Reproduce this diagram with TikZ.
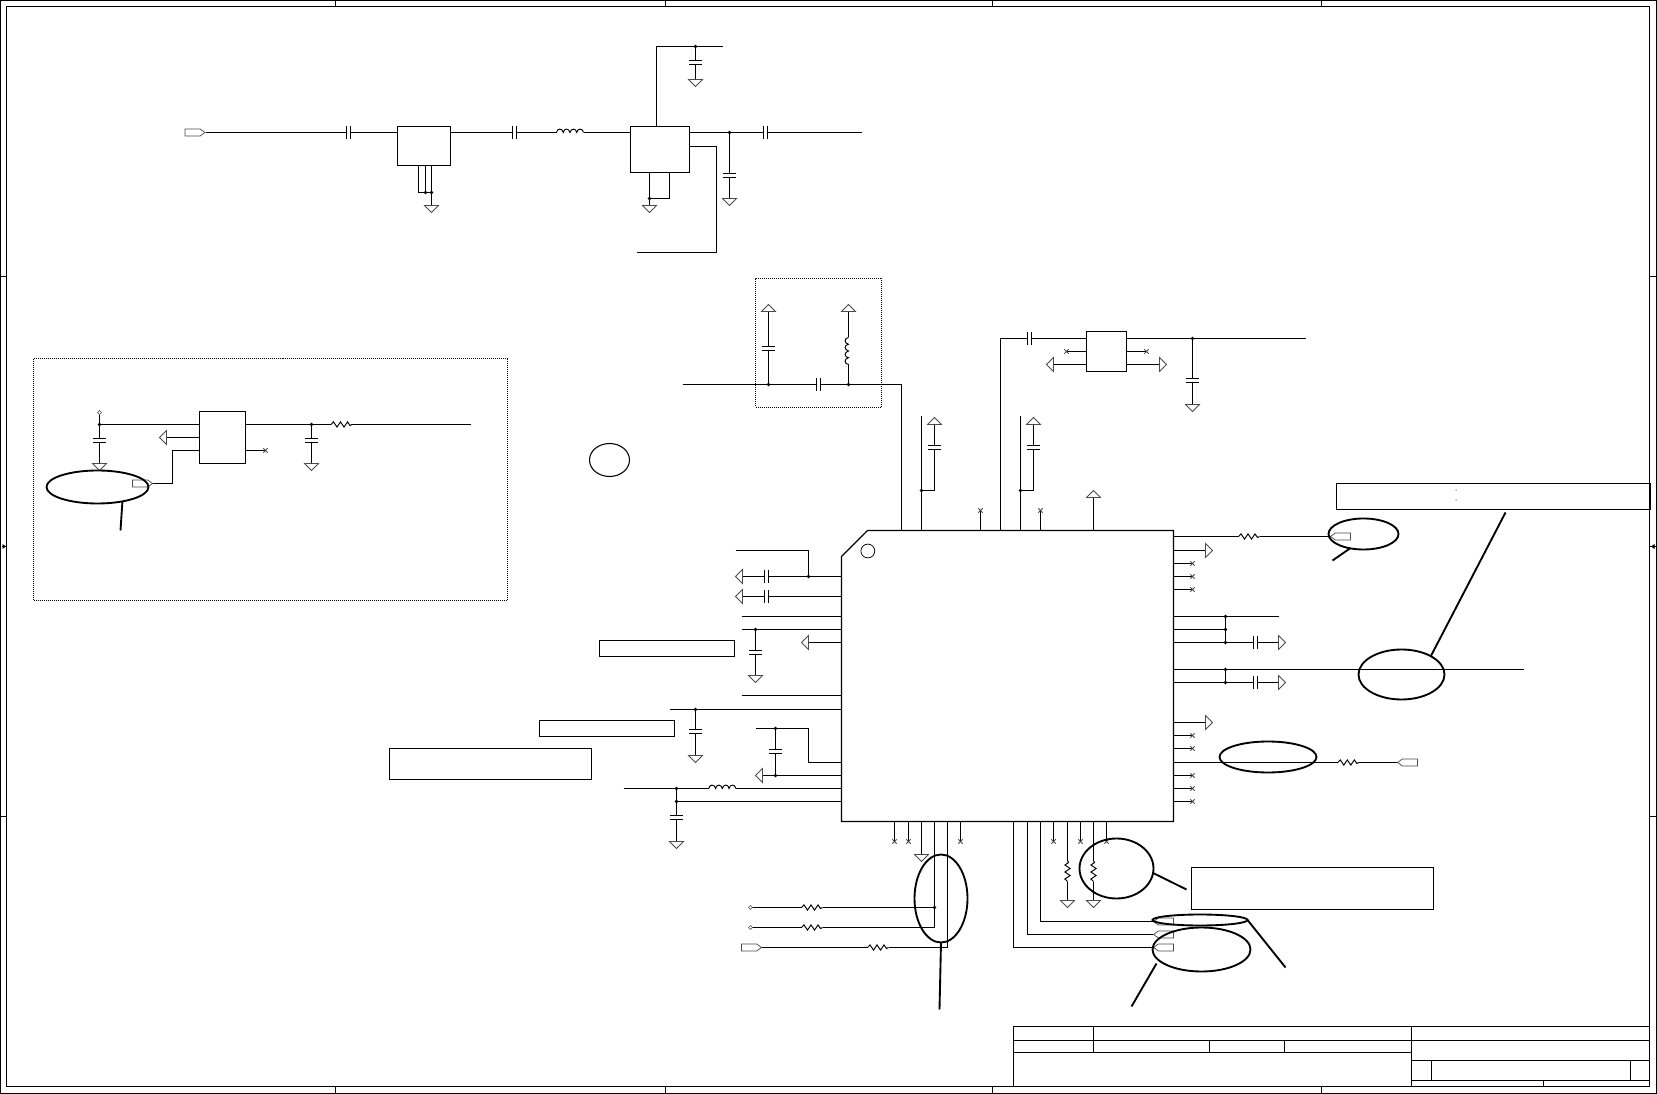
\documentclass[tikz,border=0pt]{standalone}
\usetikzlibrary{shapes.geometric}
\newcommand{\pt}[3]{\pgfmathsetmacro{\snapx}{floor(#2)+0.5}\pgfmathsetmacro{\snapy}{floor(#3)+0.5}\coordinate (#1) at (\snapx,\snapy);}
\newcommand{\rectnode}[6][boxnode]{\pgfmathsetmacro{\snapa}{floor(#3)+0.5}\pgfmathsetmacro{\snapb}{floor(#4)+0.5}\pgfmathsetmacro{\snapc}{floor(#5)+0.5}\pgfmathsetmacro{\snapd}{floor(#6)+0.5}\node[#1,minimum width={(\snapc-\snapa)*0.75pt},minimum height={(\snapd-\snapb)*0.75pt}] (#2) at ({(\snapa+\snapc)/2},{(\snapb+\snapd)/2}) {};}
\newcommand{\dotat}[1]{\fill (#1) circle (1.8);}
\tikzset{
  x=0.75pt,y=-0.75pt,
  wire/.style={line width=0.8pt,line cap=butt,line join=miter},
  thinwire/.style={line width=0.72pt},
  boxnode/.style={draw,line width=0.85pt,rectangle,inner sep=0pt,outer sep=0pt},
  notebox/.style={draw,line width=0.9pt,rectangle,inner sep=0pt,outer sep=0pt},
  dotbox/.style={draw,line width=0.75pt,rectangle,dash pattern=on 0.75pt off 0.75pt,inner sep=0pt,outer sep=0pt},
  mark ellipse/.style={draw,ellipse,line width=1.4pt,inner sep=0pt,outer sep=0pt},
  thin ellipse/.style={draw,ellipse,line width=0.8pt,inner sep=0pt,outer sep=0pt},
  leader/.style={line width=1.4pt,line cap=butt},
  sym/.style={line width=0.6pt,draw=black!70,fill=white},
  tri/.pic={\draw[sym] (-7,0)--(7,0)--(0,7)--cycle;},
  capV/.pic={\fill[white] (-3,-1.8) rectangle (3,1.8);\draw[wire] (-6.5,-2)--(6.5,-2) (-6.5,2)--(6.5,2);},
  capH/.pic={\fill[white] (-1.8,-3) rectangle (1.8,3);\draw[wire] (-2,-6.5)--(-2,6.5) (2,-6.5)--(2,6.5);},
  ind/.pic={\fill[white] (-13.5,-1.2) rectangle (13.5,1.2);
    \draw[thinwire] (-13.5,0) .. controls (-13,-4.5) and (-7.5,-4.5) .. (-6.7,0)
      .. controls (-6.2,-4.5) and (-1,-4.5) .. (0,0)
      .. controls (1,-4.5) and (6.2,-4.5) .. (6.7,0)
      .. controls (7.5,-4.5) and (13,-4.5) .. (13.5,0);},
  res/.pic={\fill[white] (-10.5,-1.2) rectangle (10.5,1.2);
    \draw[thinwire] (-10.5,0)--(-8,-2.6)--(-4.5,2.6)--(-1,-2.6)--(2.5,2.6)--(6,-2.6)--(8.5,1)--(10.5,0);},
  nc/.pic={\draw[line width=0.55pt,draw=black!70] (-2.2,-2.2)--(2.2,2.2) (-2.2,2.2)--(2.2,-2.2);},
  dia/.pic={\draw[line width=0.5pt,draw=black!70,fill=white] (-2,0)--(0,-2)--(2,0)--(0,2)--cycle;},
  portR/.pic={\draw[line width=0.55pt,draw=black!70,fill=white] (-20,-3.6)--(-5,-3.6)--(0,0)--(-5,3.6)--(-20,3.6)--cycle;},
  portL/.pic={\draw[line width=0.55pt,draw=black!70,fill=white] (20,-3.6)--(5,-3.6)--(0,0)--(5,3.6)--(20,3.6)--cycle;},
}
\begin{document}
\begin{tikzpicture}
\useasboundingbox (0,0) rectangle (1657,1094);
% ---- drawing frame
\draw[line width=0.85pt] (0.5,0.5) rectangle (1656.5,1093.5);
\draw[line width=0.85pt] (6.5,6.5) rectangle (1649.5,1086.5);
\foreach \X in {335.5,665.5,992.5,1321.5}{\draw[line width=0.7pt] (\X,0.5)--(\X,6.5) (\X,1086.5)--(\X,1093.5);}
\foreach \Y in {276.5,816.5}{\draw[line width=0.7pt] (0.5,\Y)--(6.5,\Y) (1649.5,\Y)--(1656.5,\Y);}
\draw[line width=0.7pt] (2,546.5)--(7,546.5) (1650,546.5)--(1656,546.5);
\fill (2.5,544)--(6,546.5)--(2.5,549)--cycle;
\fill (1654.5,544)--(1651,546.5)--(1654.5,549)--cycle;

% ---- IC
\draw[line width=0.85pt] (867.5,530.5)--(1173.5,530.5)--(1173.5,821.5)--(841.5,821.5)--(841.5,556.5)--cycle;
\node[draw,circle,line width=0.55pt,minimum size=10.4pt,inner sep=0pt] (icdot) at (867.8,551) {};
\pt{icleft}{841.7}{600}
\pt{icright}{1173.3}{600}
\pt{icbot}{900}{821.5}

% ---- top RF chain
\rectnode{boxA}{397}{126.3}{450.6}{165.3}
\rectnode{boxB}{630}{126.3}{689.5}{172.7}
\pt{inA}{205}{132.5}
\pt{outB}{861}{132.5}
\draw[wire] (inA)--(boxA.west|-inA);
\draw[wire] (boxA.east|-inA)--(boxB.west|-inA);
\draw[wire] (boxB.east|-inA)--(outB);
\pic at (205,132.5) {portR};
\pic at (348.5,132.5) {capH};
\pic at (514.5,132.5) {capH};
\pic at (570,132.5) {ind};
\pic at (765.5,132.5) {capH};
\pt{bA1}{418}{192.3}\pt{bA2}{425}{192.3}\pt{bA3}{431}{192.3}\pt{gA}{431}{205}
\draw[thinwire] (boxA.south-|bA1)--(bA1)--(bA3);
\draw[thinwire] (boxA.south-|bA2)--(bA2);
\draw[thinwire] (boxA.south-|bA3)--(gA);
\dotat{bA2}\dotat{bA3}
\pic at (gA) {tri};
\pt{bB1}{649}{198.3}\pt{bB2}{669}{198.3}\pt{gB}{649}{205}
\draw[thinwire] (boxB.south-|bB2)--(bB2)--(bB1);
\draw[thinwire] (boxB.south-|bB1)--(gB);
\dotat{bB1}
\pic at (gB) {tri};
\pt{vT}{656.7}{46.3}\pt{vE}{722}{46.3}\pt{jT}{695.8}{46.3}\pt{gT}{695.8}{79.3}
\draw[wire] (boxB.north-|vT)--(vT)--(vE);
\draw[wire] (jT)--(gT);
\dotat{jT}
\pic at (695.5,62.5) {capV};
\pic at (gT) {tri};
\pt{jO}{729}{132.5}\pt{gO}{729}{198}
\draw[wire] (jO)--(gO);
\dotat{jO}
\pic at (729.5,175.5) {capV};
\pic at (gO) {tri};
\pt{fbA}{716}{146}\pt{fbB}{716}{252.3}\pt{fbC}{636}{252.3}
\draw[thinwire] (boxB.east|-fbA)--(fbA)--(fbB);
\draw[wire] (fbB)--(fbC);

% ---- left dotted block
\rectnode[dotbox]{blockL}{33.2}{358.3}{507.5}{600.3}
\rectnode{boxC}{199.3}{411.3}{245.7}{463.3}
\pt{jC}{99.3}{424.3}\pt{dC}{99.3}{412.3}\pt{gC}{99.3}{463.3}
\draw[wire] (jC)--(boxC.west|-jC);
\draw[wire] (dC)--(gC);
\dotat{jC}
\pic at (dC) {dia};
\pic at (99.5,440.5) {capV};
\pic at (gC) {tri};
\pt{aC}{166}{437.3}
\draw[wire] (boxC.west|-aC)--(aC);
\pic[rotate=-90] at (aC) {tri};
\pt{cC1}{172.5}{450.3}\pt{cC2}{172.5}{483.3}\pt{cC3}{152.5}{483.3}
\draw[wire] (boxC.west|-cC1)--(cC1)--(cC2)--(cC3);
\pic at (cC3) {portR};
\pt{jD}{311.4}{424.3}\pt{eD}{470.7}{424.3}\pt{gD}{311.4}{463.3}
\draw[wire] (boxC.east|-jD)--(eD);
\draw[wire] (jD)--(gD);
\dotat{jD}
\pic at (311.5,440.5) {capV};
\pic at (gD) {tri};
\pic at (341.5,424.5) {res};
\pt{ncC}{265}{450.3}
\draw[thinwire] (boxC.east|-ncC)--(ncC);
\pic at (ncC) {nc};
\rectnode[mark ellipse]{elA}{46.8}{470.7}{148.2}{503.3}
\pt{lA}{120}{530.3}
\draw[leader] (elA.-30)--(lA);

% ---- upper dotted block and antenna feed
\rectnode[dotbox]{blockU}{755.3}{278.3}{881.6}{407.3}
\pt{fA}{682}{384.3}\pt{fB}{901.5}{384.3}\pt{fC}{901.5}{530.5}
\draw[wire] (fA)--(fB);
\draw[thinwire] (fB)--(fC);
\pt{jE}{768.3}{384.3}\pt{tE}{768.3}{311.7}\pt{jF}{848}{384.3}\pt{tF}{848}{311.7}
\draw[wire] (jE)--(tE);
\draw[wire] (jF)--(tF);
\dotat{jE}\dotat{jF}
\pic at (768.5,348.5) {capV};
\pic[rotate=90] at (848.5,351) {ind};
\pic at (818.5,384.5) {capH};
\pic[rotate=180] at (tE) {tri};
\pic[rotate=180] at (tF) {tri};

% ---- top pins
\pt{p1a}{921.4}{530.5}\pt{p1b}{921.4}{416.7}\pt{j1}{921.4}{490}\pt{p1c}{934.4}{490}\pt{p1d}{934.4}{424.7}
\draw[wire] (p1a)--(p1b);
\draw[thinwire] (j1)--(p1c)--(p1d);
\dotat{j1}
\pic at (934.5,447.5) {capV};
\pic[rotate=180] at (p1d) {tri};
\pt{p2a}{1020.5}{530.5}\pt{p2b}{1020.5}{416.7}\pt{j2}{1020.5}{490}\pt{p2c}{1033.5}{490}\pt{p2d}{1033.5}{424.7}
\draw[thinwire] (p2a)--(p2b);
\draw[thinwire] (j2)--(p2c)--(p2d);
\dotat{j2}
\pic at (1033.5,447.5) {capV};
\pic[rotate=180] at (p2d) {tri};
\foreach \X in {980.5,1040.5}{\draw[thinwire] (\X,530.5)--(\X,510.5); \pic at (\X,510.5) {nc};}
\pt{p3a}{1093.2}{530.5}\pt{p3b}{1093.2}{497}
\draw[thinwire] (p3a)--(p3b);
\pic[rotate=180] at (p3b) {tri};

% ---- block at upper right
\rectnode{boxD}{1086.3}{331.3}{1126.5}{371.3}
\pt{q1}{1000.6}{530.5}\pt{q2}{1000.6}{338.3}\pt{qE}{1305.3}{338.3}\pt{jq}{1192.3}{338.3}\pt{gq}{1192.3}{404}
\draw[thinwire] (q1)--(q2);
\draw[wire] (q2)--(boxD.west|-q2);
\draw[wire] (boxD.east|-q2)--(qE);
\draw[wire] (jq)--(gq);
\dotat{jq}
\pic at (1029.5,338.5) {capH};
\pic at (1192.5,380.5) {capV};
\pic at (gq) {tri};
\pt{nL}{1066.4}{351}\pt{nR}{1146}{351}\pt{aL}{1053.4}{364.3}\pt{aR}{1159.4}{364.3}
\draw[thinwire] (boxD.west|-nL)--(nL);
\draw[thinwire] (boxD.east|-nR)--(nR);
\pic at (nL) {nc};
\pic at (nR) {nc};
\draw[wire] (boxD.west|-aL)--(aL);
\draw[wire] (boxD.east|-aR)--(aR);
\pic[rotate=-90] at (aL) {tri};
\pic[rotate=90] at (aR) {tri};

% ---- IC left side
\pt{l1}{735.3}{550.3}\pt{l1b}{808.3}{550.3}\pt{l1c}{808.3}{576.3}
\draw[wire] (l1)--(l1b);
\draw[thinwire] (l1b)--(l1c);
\dotat{l1c}
\pt{l2}{742.7}{576.3}\pt{l3}{742.7}{596.7}
\draw[wire] (l2)--(icleft|-l2);
\draw[wire] (l3)--(icleft|-l3);
\pic at (766.5,576.5) {capH};
\pic at (766.5,596.5) {capH};
\pic[rotate=-90] at (l2) {tri};
\pic[rotate=-90] at (l3) {tri};
\pt{l4}{741.7}{616.3}\pt{l5}{741.7}{629.3}\pt{j5}{755.3}{629.3}\pt{g5}{755.3}{675.3}
\draw[wire] (l4)--(icleft|-l4);
\draw[wire] (l5)--(icleft|-l5);
\draw[wire] (j5)--(g5);
\dotat{j5}
\pic at (755.5,652.5) {capV};
\pic at (g5) {tri};
\pt{l6}{808.7}{642.3}
\draw[wire] (l6)--(icleft|-l6);
\pic[rotate=-90] at (l6) {tri};
\rectnode[notebox]{noteA}{599.3}{640.3}{734.7}{656.3}
\pt{l7}{741.7}{695.3}
\draw[wire] (l7)--(icleft|-l7);
\pt{l8}{669}{709.3}\pt{j8}{695.7}{709.3}\pt{g8}{695.7}{755.3}
\draw[wire] (l8)--(icleft|-l8);
\draw[wire] (j8)--(g8);
\dotat{j8}
\pic at (695.5,731.5) {capV};
\pic at (g8) {tri};
\rectnode[notebox]{noteB}{539.3}{720.3}{674.7}{736.7}
\rectnode[notebox]{noteC}{389.3}{748.3}{591.7}{779.3}
\pt{l9}{755}{728.3}\pt{l9b}{808.3}{728.3}\pt{l9c}{808.3}{762.3}\pt{j9}{775.3}{728.3}\pt{j10}{775.3}{775.3}\pt{l10}{762}{775.3}
\draw[wire] (l9)--(l9b);
\draw[thinwire] (l9b)--(l9c);
\draw[wire] (l9c)--(icleft|-l9c);
\draw[wire] (l10)--(icleft|-l10);
\draw[wire] (j9)--(j10);
\dotat{j9}\dotat{j10}
\pic at (775.5,751.5) {capV};
\pic[rotate=-90] at (l10) {tri};
\pt{l11}{623}{788.3}\pt{j11}{676}{788.3}\pt{j12}{676}{801.3}\pt{g12}{676}{841.3}
\draw[wire] (l11)--(icleft|-l11);
\draw[wire] (j12)--(icleft|-j12);
\draw[wire] (j11)--(g12);
\dotat{j11}\dotat{j12}
\pic at (722.3,788.5) {ind};
\pic at (676.5,817.5) {capV};
\pic at (g12) {tri};

% ---- circle alone
\rectnode[thin ellipse]{elB}{589.3}{443.3}{629.3}{476.7}

% ---- IC right side
\pt{r1}{1330}{536.3}
\draw[wire] (icright|-r1)--(r1);
\pic at (1249,536.5) {res};
\pic at (r1) {portL};
\rectnode[mark ellipse]{elC}{1328.3}{518.3}{1398.7}{549}
\pt{lC}{1332.3}{560.3}
\draw[leader] (elC.-133)--(lC);
\pt{r2}{1205.7}{550.3}
\draw[wire] (icright|-r2)--(r2);
\pic[rotate=90] at (r2) {tri};
\foreach \Y in {563.5,576.5,589.5,735.5,748.5,775.5,788.5,801.5}{\draw[thinwire] (1173.5,\Y)--(1192.5,\Y);\pic at (1192.5,\Y) {nc};}
\pt{r3}{1278.7}{616}\pt{j3}{1225.7}{616}\pt{j4}{1225.7}{629.3}\pt{j6}{1225.7}{642.3}\pt{r6}{1278.7}{642.3}
\draw[wire] (icright|-r3)--(r3);
\draw[wire] (icright|-j4)--(j4);
\draw[wire] (icright|-r6)--(r6);
\draw[wire] (j3)--(j6);
\dotat{j3}\dotat{j4}\dotat{j6}
\pic at (1255.5,642.5) {capH};
\pic[rotate=90] at (r6) {tri};
\pt{r7}{1523.7}{669.3}\pt{j7}{1225.7}{669.3}\pt{j13}{1225.7}{682.3}\pt{r8}{1278.7}{682.3}
\draw[wire] (icright|-r7)--(r7);
\draw[wire] (icright|-r8)--(r8);
\draw[wire] (j7)--(j13);
\dotat{j7}\dotat{j13}
\pic at (1255.5,682.5) {capH};
\pic[rotate=90] at (r8) {tri};
\rectnode[mark ellipse]{elD}{1358}{649}{1444}{699.7}
\rectnode[notebox]{noteD}{1336.3}{483.7}{1650.7}{509.3}
\pt{lD}{1505.3}{512.3}
\draw[leader] (elD.32)--(lD);
\fill[black!55] (1455.5,489.5) rectangle (1456.7,490.7) (1455.5,499.5) rectangle (1456.7,500.7);
\pt{r9}{1205.7}{722.3}
\draw[wire] (icright|-r9)--(r9);
\pic[rotate=90] at (r9) {tri};
\pt{r10}{1397.7}{762.3}
\draw[wire] (icright|-r10)--(r10);
\pic at (1348.3,762.5) {res};
\pic at (r10) {portL};
\rectnode[mark ellipse]{elE}{1219}{741.7}{1316.3}{772.3}

% ---- IC bottom, left group
\foreach \X in {894.5,908.5,960.5,1053.5,1080.5,1106.5}{\draw[thinwire] (\X,821.5)--(\X,841.5);\pic at (\X,841.5) {nc};}
\pt{b3}{921.4}{854.3}
\draw[thinwire] (icbot-|b3)--(b3);
\pic at (b3) {tri};
\pt{b4}{934.6}{927.3}\pt{j14}{934.6}{907.3}\pt{d1}{750.4}{907.3}\pt{d2}{750.4}{927.3}
\draw[thinwire] (icbot-|b4)--(b4);
\draw[wire] (j14)--(d1);
\draw[wire] (b4)--(d2);
\dotat{j14}
\pic at (812,907.5) {res};
\pic at (812,927.5) {res};
\pic at (d1) {dia};
\pic at (d2) {dia};
\pt{b5}{947.5}{947.3}\pt{d3}{761.8}{947.3}
\draw[thinwire] (icbot-|b5)--(b5);
\draw[wire] (b5)--(d3);
\pic at (878,947.5) {res};
\pic at (d3) {portR};
\rectnode[mark ellipse]{elF}{914.3}{854.3}{967.1}{942.3}
\pt{lF}{939.3}{1009.3}
\draw[leader] (elF.-90)--(lF);

% ---- IC bottom, right group
\pt{b6}{1013.6}{947.3}\pt{t6}{1153.2}{947.3}
\pt{b7}{1027.5}{934.3}\pt{t7}{1153.2}{934.3}
\pt{b8}{1040.7}{921.3}\pt{t8}{1153.2}{921.3}
\draw[thinwire] (icbot-|b6)--(b6);
\draw[thinwire] (icbot-|b7)--(b7);
\draw[thinwire] (icbot-|b8)--(b8);
\draw[wire] (b6)--(t6);
\draw[wire] (b7)--(t7);
\draw[wire] (b8)--(t8);
\pic at (t6) {portL};
\pic at (t7) {portL};
\pic at (t8) {portL};
\pt{b9}{1067.5}{900.3}\pt{b10}{1093.6}{900.3}
\draw[thinwire] (icbot-|b9)--(b9);
\draw[thinwire] (icbot-|b10)--(b10);
\pic[rotate=90] at (1067.5,871) {res};
\pic[rotate=90] at (1093.5,871) {res};
\pic at (b9) {tri};
\pic at (b10) {tri};
\rectnode[mark ellipse]{elG}{1079.6}{838}{1153.6}{898.3}
\rectnode[notebox]{noteE}{1191.5}{867.7}{1433.2}{909.3}
\pt{lG}{1186.4}{889.7}
\draw[leader] (elG.-7)--(lG);
\rectnode[mark ellipse]{elH}{1152.9}{914}{1247.2}{925.7}
\pt{lH}{1285.3}{967.3}
\draw[leader] (elH.0)--(lH);
\rectnode[mark ellipse]{elI}{1152.9}{927.3}{1250}{971.7}
\pt{lI1}{1156.3}{963.7}\pt{lI2}{1131.5}{1006.3}
\draw[leader] (lI1)--(lI2);

% ---- title block
\draw[wire] (1013.5,1086.5)--(1013.5,1026.5)--(1649.5,1026.5);
\draw[wire] (1013.5,1040.5)--(1649.5,1040.5);
\draw[wire] (1013.5,1052.5)--(1411.5,1052.5);
\draw[wire] (1093.5,1026.5)--(1093.5,1052.5);
\draw[wire] (1209.5,1040.5)--(1209.5,1052.5);
\draw[wire] (1284.5,1040.5)--(1284.5,1052.5);
\draw[wire] (1411.5,1026.5)--(1411.5,1086.5);
\draw[wire] (1411.5,1060.5)--(1649.5,1060.5);
\draw[wire] (1411.5,1080.5)--(1649.5,1080.5);
\draw[wire] (1431.5,1060.5)--(1431.5,1080.5);
\draw[wire] (1630.5,1060.5)--(1630.5,1080.5);
\draw[wire] (1543.5,1080.5)--(1543.5,1086.5);
\end{tikzpicture}
\end{document}
